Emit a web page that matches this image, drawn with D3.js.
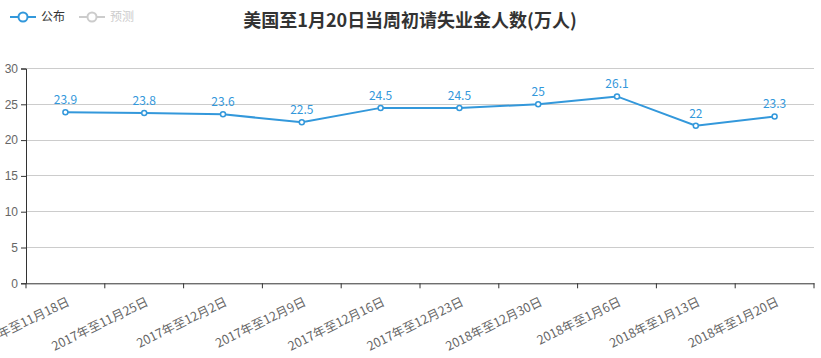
<!DOCTYPE html>
<html><head><meta charset="utf-8">
<script src="https://cdn.jsdelivr.net/npm/d3@7/dist/d3.min.js"></script>
<style>body{margin:0;background:#fff;}svg{display:block;font-family:"Noto Sans CJK SC","Microsoft YaHei",sans-serif;}</style>
</head><body>
<svg id="c" width="821" height="358"></svg>
<script>
const categories = ["2017年至11月18日","2017年至11月25日","2017年至12月2日","2017年至12月9日","2017年至12月16日","2017年至12月23日","2018年至12月30日","2018年至1月6日","2018年至1月13日","2018年至1月20日"];
const published = [23.9,23.8,23.6,22.5,24.5,24.5,25,26.1,22,23.3];
const yTicks = [0,5,10,15,20,25,30];
const title = "美国至1月20日当周初请失业金人数(万人)";
const legendNames = ["公布","预测"];

const svg = d3.select("#c");
const L=26, R=814, T=68.5, B=283.3;
const x = d3.scaleBand().domain(categories).range([L,R]);
const y = d3.scaleLinear().domain([0,30]).range([B,T]);
const color = "#3398DB";

// grid
svg.append("g").selectAll("line").data(yTicks.filter(d=>d>0)).join("line")
  .attr("x1",L).attr("x2",R).attr("y1",d=>y(d)).attr("y2",d=>y(d))
  .attr("stroke","#ccc").attr("stroke-width",1).attr("shape-rendering","crispEdges");

// y axis
const ya = svg.append("g").attr("transform",`translate(${L},0)`).call(d3.axisLeft(y).tickValues(yTicks).tickSize(5).tickPadding(3));
ya.select(".domain").attr("stroke","#333");
ya.selectAll(".tick line").attr("stroke","#333");
ya.selectAll("text").attr("fill","#666").attr("font-size",12);

// x axis
const xa = svg.append("g").attr("transform",`translate(0,${B})`).call(d3.axisBottom(x).tickSize(0).tickFormat(""));
xa.select(".domain").attr("stroke","#333");
xa.selectAll(".tick").remove();
const bounds = categories.map(c=>x(c)).concat([R]);
svg.append("g").selectAll("line").data(bounds).join("line")
  .attr("x1",d=>d).attr("x2",d=>d).attr("y1",B).attr("y2",B+5).attr("stroke","#333");
svg.append("g").selectAll("text").data(categories).join("text")
  .attr("transform",d=>`translate(${x(d)+x.bandwidth()/2+1},${B+13}) rotate(-26)`)
  .attr("text-anchor","end").attr("dy","0.75em").attr("fill","#666").attr("font-size",12.5).text(d=>d);

// line
const line = d3.line().x((d,i)=>x(categories[i])+x.bandwidth()/2).y(d=>y(d));
svg.append("path").datum(published).attr("d",line).attr("fill","none").attr("stroke",color).attr("stroke-width",2);
svg.append("g").selectAll("circle").data(published).join("circle")
  .attr("cx",(d,i)=>x(categories[i])+x.bandwidth()/2).attr("cy",d=>y(d)).attr("r",2.5)
  .attr("fill","#fff").attr("stroke",color).attr("stroke-width",1.5);
svg.append("g").selectAll("text").data(published).join("text")
  .attr("x",(d,i)=>x(categories[i])+x.bandwidth()/2).attr("y",d=>y(d)-8)
  .attr("text-anchor","middle").attr("fill",color).attr("font-size",12).text(d=>d);

// title
svg.append("text").attr("x",410).attr("y",27).attr("text-anchor","middle")
  .attr("font-size",18).attr("font-weight","bold").attr("fill","#333").text(title);

// legend
const lg = [{n:legendNames[0],c:color,t:"#333",x:10},{n:legendNames[1],c:"#ccc",t:"#ccc",x:79}];
lg.forEach(o=>{
  const g = svg.append("g");
  g.append("line").attr("x1",o.x).attr("x2",o.x+26).attr("y1",17).attr("y2",17).attr("stroke",o.c).attr("stroke-width",2);
  g.append("circle").attr("cx",o.x+13).attr("cy",17).attr("r",4.5).attr("fill","#fff").attr("stroke",o.c).attr("stroke-width",2);
  g.append("text").attr("x",o.x+31).attr("y",17).attr("dy","0.35em").attr("font-size",12).attr("fill",o.t).text(o.n);
});
</script>
</body></html>
